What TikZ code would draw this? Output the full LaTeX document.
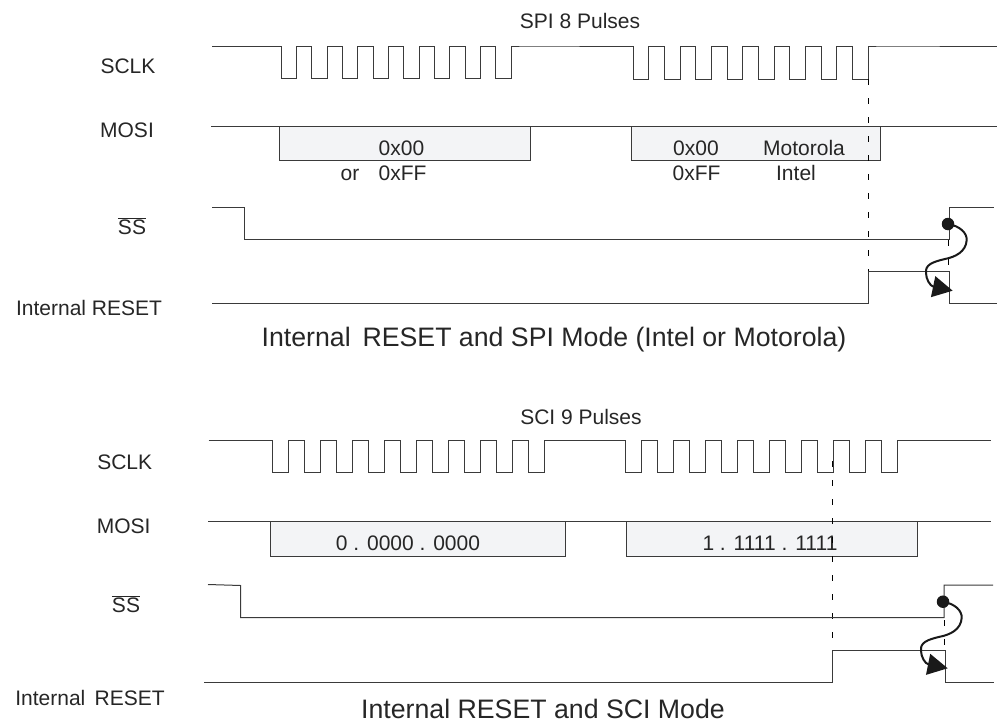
\documentclass[tikz,border=0pt]{standalone}
\usepackage{fontspec}
\setmainfont{Liberation Sans}
\usetikzlibrary{arrows.meta}
\definecolor{boxgray}{HTML}{F3F4F6}
\definecolor{wavegray}{HTML}{3A3A3A}
\begin{document}
\begin{tikzpicture}[x=1pt,y=-1pt,
	sig_line/.style={draw=wavegray,line width=1pt,line join=miter},
	data_box/.style={draw=wavegray,fill=boxgray,line width=1pt},
	dash_line/.style={draw=black,line width=0.7pt,dash pattern=on 6pt off 13pt},
	sig_label/.style={font=\fontsize{21}{24}\selectfont,text=black!85,inner sep=0pt,text height=15pt,text depth=0pt},
	big_label/.style={font=\fontsize{26.7}{30}\selectfont,text=black!85,inner sep=0pt,text height=19pt,text depth=0pt},
	sig_dot/.style={circle,fill=black!90,inner sep=0pt,minimum size=12.5pt},
	cause_arrow/.style={draw=black!90,line width=2pt,-{Triangle[length=20pt,width=21pt]}}]

	\useasboundingbox (0,0) rectangle (1002,723);

	% SPI part
	\node[sig_label] (spi_pulses) at (580,21) {SPI 8 Pulses};
	\node[sig_label] (spi_sclk) at (128,66) {SCLK};
	\node[sig_label] (spi_mosi) at (127,130) {MOSI};
	\node[sig_label] (spi_ss) at (132,227) {$\overline{\mbox{SS}}$};
	\node[sig_label] (spi_reset) at (89,308) {Internal RESET};
	\node[big_label] (spi_title) at (554,337) {Internal\, RESET and SPI Mode (Intel or Motorola)};

	\draw[sig_line] (212,46) -- (281,46) \foreach \i in {1,...,8} { -- ++(0,32) -- ++(15.35,0) -- ++(0,-32) -- ++(15.35,0)} -- (633.3,46)
		\foreach \i in {1,...,8} { -- ++(0,33) -- ++(15.65,0) -- ++(0,-33) -- ++(15.65,0)} -- (997,46);

	\draw[sig_line] (211,126) -- (997,126);
	\draw[data_box] (279.3,126) rectangle (530.7,160.5);
	\draw[data_box] (631.3,126) rectangle (880,160.5);
	\node[sig_label] (spi_a) at (401.5,148) {0x00};
	\node[sig_label] (spi_or) at (350,173) {or};
	\node[sig_label] (spi_b) at (402.5,173) {0xFF};
	\node[sig_label] (spi_c) at (696,148) {0x00};
	\node[sig_label] (spi_d) at (696.5,173) {0xFF};
	\node[sig_label] (spi_moto) at (804,148) {Motorola};
	\node[sig_label] (spi_intel) at (796,173) {Intel};

	\draw[dash_line] (868.7,79) -- (868.7,271.5);
	\draw[dash_line] (948.7,240) -- (948.7,271.5);

	\draw[sig_line] (212,207.5) -- (244,207.5) -- (244,239.7) -- (949,239.7) -- (949,207.7) -- (994,207.7);
	\draw[sig_line] (212,303.3) -- (868.7,303.3) -- (868.7,271.5) -- (949,271.5) -- (949,303.3) -- (997,303.3);

	\node[sig_dot] (spi_dot) at (948,224) {};
	\coordinate (spi_tip) at (952.7,290.7);
	\draw[cause_arrow] (spi_dot.center) .. controls (960,226) and (967,233) .. (966.7,240) .. controls (966,252) and (955,257) .. (945,259) .. controls (932,262) and (925,265) .. (926,273) .. controls (926,279) and (930,286) .. (spi_tip);

	% SCI part
	\node[sig_label] (sci_pulses) at (581,417) {SCI 9 Pulses};
	\node[sig_label] (sci_sclk) at (124.7,461.7) {SCLK};
	\node[sig_label] (sci_mosi) at (123.7,525.7) {MOSI};
	\node[sig_label] (sci_ss) at (126,605) {$\overline{\mbox{SS}}$};
	\node[sig_label] (sci_reset) at (90,698) {Internal\, RESET};
	\node[big_label] (sci_title) at (543,709) {Internal RESET and SCI Mode};

	\draw[sig_line] (208.5,440.5) -- (272.7,440.5) \foreach \i in {1,...,9} { -- ++(0,32) -- ++(16,0) -- ++(0,-32) -- ++(16,0)} -- (625,440.5)
		\foreach \i in {1,...,9} { -- ++(0,32) -- ++(16,0) -- ++(0,-32) -- ++(16,0)} -- (990.7,440.5);

	\draw[sig_line] (208,521) -- (990.7,521);
	\draw[data_box] (270,521) rectangle (565,556);
	\draw[data_box] (626,521) rectangle (917,556);
	\node[sig_label] (sci_a) at (408,543) {0 . 0000 . 0000};
	\node[sig_label] (sci_b) at (770,543) {1 . 1\kern-1.5pt 1\kern-1.5pt 1\kern-1.5pt 1 . 1\kern-1.5pt 1\kern-1.5pt 1\kern-1.5pt 1};

	\draw[dash_line] (832.3,461) -- (832.3,650);
	\draw[dash_line] (944,620) -- (944,650);

	\draw[sig_line] (208,584.5) -- (240.7,585.5) -- (240.7,617.7) -- (944,617.7) -- (944,585) -- (993,585);
	\draw[sig_line] (204,682.3) -- (832.3,682.3) -- (832.3,650) -- (945.7,650) -- (945.7,682.3) -- (994,682.3);

	\node[sig_dot] (sci_dot) at (943,601.7) {};
	\coordinate (sci_tip) at (947.7,668.3);
	\draw[cause_arrow] (sci_dot.center) .. controls (955,603.7) and (962,610.7) .. (961.7,617.7) .. controls (961,629.7) and (950,634.7) .. (940,636.7) .. controls (927,639.7) and (920,642.7) .. (921,650.7) .. controls (921,656.7) and (925,663.7) .. (sci_tip);
\end{tikzpicture}
\end{document}
